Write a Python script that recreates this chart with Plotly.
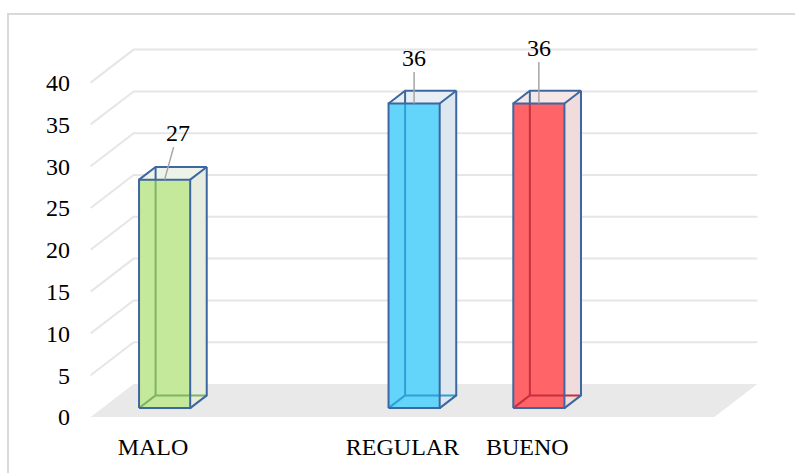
import plotly.graph_objects as go

# ---- data ----
categories = ["MALO", "", "REGULAR", "BUENO", ""]
values = [27, None, 36, 36, None]
y_ticks = [0, 5, 10, 15, 20, 25, 30, 35, 40]

# ---- styles ----
front_colors = ["#c5e99b", None, "#63d5fb", "#ff6468", None]
side_colors = ["#e6ecdf", None, "#dce7ef", "#f0dcdc", None]
top_colors = ["#eef3e9", None, "#e7eff5", "#f7e6e6", None]
hidden_colors = ["#80b364", None, "#2fa0d4", "#c4313d", None]
label_offsets = [(13, -47), None, (0, -46), (0, -56), None]
OUTLINE = "#3d67a0"
GRID = "#e6e6e6"
FLOOR = "#e9e9e9"
FONT = "Liberation Serif, Times New Roman, serif"

# ---- projection (oblique 3D look) ----
PX_X = 124.75   # px per category slot
PX_Y = 8.36     # px per value unit
DX = 43 / PX_X  # depth offset in x units
DY = 33 / PX_Y  # depth offset in y units
T0, T1 = 0.27, 0.655  # bar depth span (fraction of depth)
W = 0.41               # bar width (slot fraction)
PERSP = 1.012          # slight perspective enlargement of the bars

def P(x, y, t):
    return (x + t * DX, y + t * DY)

n = len(categories)
fig = go.Figure()

def poly(points, color):
    xs = [p[0] for p in points] + [points[0][0]]
    ys = [p[1] for p in points] + [points[0][1]]
    fig.add_trace(go.Scatter(x=xs, y=ys, mode="lines", fill="toself",
                             fillcolor=color, line=dict(width=0, color=color),
                             hoverinfo="skip", showlegend=False))

def lines(segs, color, width):
    xs, ys = [], []
    for seg in segs:
        for p in seg:
            xs.append(p[0]); ys.append(p[1])
        xs.append(None); ys.append(None)
    fig.add_trace(go.Scatter(x=xs, y=ys, mode="lines",
                             line=dict(color=color, width=width),
                             hoverinfo="skip", showlegend=False))

# floor
x_lo, x_hi = -0.5, n - 0.5
poly([P(x_lo, 0, 0), P(x_hi, 0, 0), P(x_hi, 0, 1), P(x_lo, 0, 1)], FLOOR)

# gridlines (side wall diagonal + back wall)
grid_segs = []
for v in y_ticks[1:]:
    grid_segs.append([P(x_lo, v, 0), P(x_lo, v, 1), P(x_hi, v, 1)])
lines(grid_segs, GRID, 2)

annotations = []
for i, v in enumerate(values):
    if v is None:
        continue
    h = v * PERSP
    xl, xr = i - W / 2, i + W / 2
    FBL, FBR, FTL, FTR = P(xl, 0, T0), P(xr, 0, T0), P(xl, h, T0), P(xr, h, T0)
    BBL, BBR, BTL, BTR = P(xl, 0, T1), P(xr, 0, T1), P(xl, h, T1), P(xr, h, T1)
    poly([FBR, BBR, BTR, FTR], side_colors[i])
    poly([FTL, BTL, BTR, FTR], top_colors[i])
    poly([FBL, FBR, FTR, FTL], front_colors[i])
    # hidden edges seen through translucent faces
    lines([[FBL, BBL], [BBL, BBR], [BBL, (BTL[0], FTL[1])]], hidden_colors[i], 2)
    lines([[(BTL[0], FTL[1]), BTL]], OUTLINE, 2)
    # visible outline
    lines([[FBL, FBR, FTR, FTL, FBL], [FTL, BTL, BTR, FTR], [BTR, BBR, FBR]], OUTLINE, 2)
    ax, ay = label_offsets[i]
    hx, hy = P(i, h, T0)
    annotations.append(dict(x=hx, y=hy, text=str(v), showarrow=True, ax=ax, ay=ay,
                            arrowhead=0, arrowwidth=1.5, arrowcolor="#a6a6a6",
                            standoff=0, startstandoff=0,
                            font=dict(family=FONT, size=24, color="#000000")))

L, R, T, B = 90, 25, 30, 56
plot_w = 795 - L - R
plot_h = 473 - T - B
x0 = (L - 153) / PX_X
fig.update_layout(
    width=795, height=473,
    margin=dict(l=L, r=R, t=T, b=B, pad=0),
    paper_bgcolor="white", plot_bgcolor="white",
    showlegend=False,
    annotations=annotations,
    xaxis=dict(range=[x0, x0 + plot_w / PX_X], tickvals=list(range(n)), ticktext=categories,
               showgrid=False, zeroline=False, showline=False, ticks="",
               ticklabelstandoff=13,
               tickfont=dict(family=FONT, size=24, color="#000000"), fixedrange=True),
    yaxis=dict(range=[0, plot_h / PX_Y], tickvals=y_ticks,
               showgrid=False, zeroline=False, showline=False, ticks="",
               ticklabelstandoff=19,
               tickfont=dict(family=FONT, size=24, color="#000000"), fixedrange=True),
    shapes=[dict(type="rect", xref="paper", yref="paper",
                 x0=(8 - L) / plot_w, x1=(805 - L) / plot_w,
                 y0=(473 - B - 485) / plot_h, y1=(473 - B - 14) / plot_h,
                 line=dict(color="#d9d9d9", width=2), fillcolor="rgba(0,0,0,0)",
                 layer="below")],
)

fig.write_html("out.html")
